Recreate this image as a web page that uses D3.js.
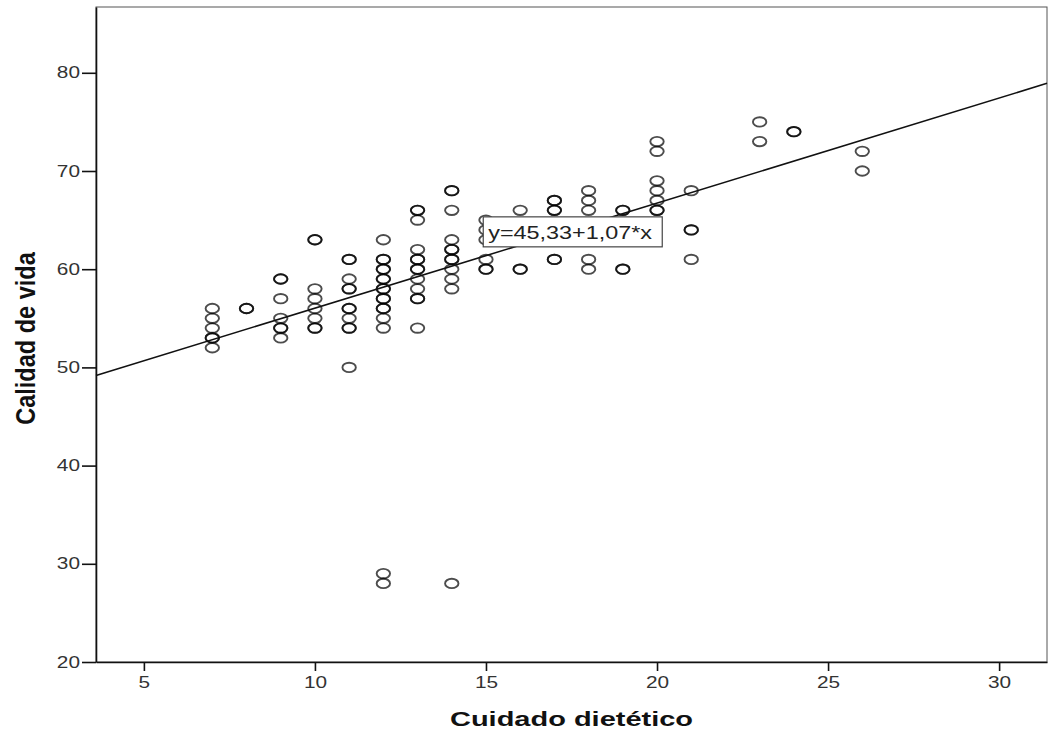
<!DOCTYPE html>
<html>
<head>
<meta charset="utf-8">
<script src="https://cdnjs.cloudflare.com/ajax/libs/d3/7.8.5/d3.min.js"></script>
<style>
  body { margin: 0; background: #fff; }
  svg { display: block; }
  text { font-family: "Liberation Sans", Arial, sans-serif; }
</style>
</head>
<body>
<div id="chart"></div>
<script>

// data: one list of "Calidad de vida" scores per "Cuidado dietetico" value
var cuidadoLevels = [7, 8, 9, 10, 11, 12, 13, 14, 15, 16, 17, 18, 19, 20, 21, 23, 24, 26];
var calidadByLevel = [
  [56, 55, 54, 53, 53, 52],
  [56, 56],
  [59, 59, 57, 55, 54, 54, 53],
  [63, 63, 58, 57, 56, 55, 54, 54],
  [61, 61, 59, 58, 58, 56, 56, 55, 54, 54, 50],
  [63, 61, 61, 60, 60, 59, 59, 58, 58, 57, 57, 56, 56, 55, 54, 29, 28],
  [66, 66, 65, 62, 61, 61, 60, 60, 59, 58, 57, 57, 54],
  [68, 68, 66, 63, 62, 62, 61, 61, 60, 59, 58, 28],
  [65, 64, 63, 61, 60, 60],
  [66, 60, 60],
  [67, 67, 66, 66, 61, 61],
  [68, 67, 66, 61, 60],
  [66, 66, 60, 60],
  [73, 72, 69, 68, 67, 66, 66],
  [68, 64, 64, 61],
  [75, 73],
  [74, 74],
  [72, 70]
];

var xTicks = [5, 10, 15, 20, 25, 30];
var yTicks = [20, 30, 40, 50, 60, 70, 80];
var xDomain = [3.6, 31.4];
var yDomain = [20, 86.7];

// fit line  y = 45,33 + 1,07*x
var fitIntercept = 45.33;
var fitSlope = 1.07;
var fitLabel = "y=45,33+1,07*x";
var fitLabelAt = [14.92, 65.33];

var xTitle = "Cuidado dietético";
var yTitle = "Calidad de vida";

// general variables

var width = 1049, height = 731;
var margin = {top: 7, right: 2, bottom: 69, left: 96};
var stretch = 1.3; // the picture is wider than tall, text looks stretched

var points = [];
cuidadoLevels.forEach(function(c, i) {
  calidadByLevel[i].forEach(function(v) {
    points.push({x: c, y: v});
  });
});

var svg = d3.select("#chart").append("svg")
  .attr("width", width)
  .attr("height", height);

var x = d3.scaleLinear()
  .domain(xDomain)
  .range([margin.left, width - margin.right]);

var y = d3.scaleLinear()
  .domain(yDomain)
  .range([height - margin.bottom, margin.top]);

// frame
svg.append("rect")
  .attr("x", x.range()[0])
  .attr("y", y.range()[1])
  .attr("width", x.range()[1] - x.range()[0])
  .attr("height", y.range()[0] - y.range()[1])
  .attr("fill", "none")
  .attr("stroke", "#555")
  .attr("stroke-width", 1);

// axes
var yAxis = svg.append("g")
  .attr("transform", "translate(" + margin.left + ",0)")
  .call(d3.axisLeft(y).tickValues(yTicks).tickSize(14).tickSizeOuter(0));

yAxis.selectAll("text")
  .attr("x", -16 / stretch)
  .attr("transform", "scale(" + stretch + ",1)");

var xAxis = svg.append("g")
  .attr("transform", "translate(0," + (height - margin.bottom) + ")")
  .call(d3.axisBottom(x).tickValues(xTicks).tickSize(9).tickPadding(6).tickSizeOuter(0));

xAxis.selectAll("text")
  .attr("x", 0)
  .attr("transform", "scale(" + stretch + ",1)");

svg.selectAll(".domain").attr("stroke", "#111").attr("stroke-width", 1.6);
svg.selectAll(".tick line").attr("stroke", "#111").attr("stroke-width", 1.6);
svg.selectAll(".tick text")
  .attr("font-size", 16)
  .attr("fill", "#333")
  .attr("font-family", "'Liberation Sans', Arial, sans-serif");

// points
svg.append("g").selectAll("ellipse")
  .data(points)
  .enter()
  .append("ellipse")
  .attr("cx", function(d) { return x(d.x); })
  .attr("cy", function(d) { return y(d.y); })
  .attr("rx", 6.7)
  .attr("ry", 4.7)
  .attr("fill", "none")
  .attr("stroke", "#000")
  .attr("stroke-opacity", 0.7)
  .attr("stroke-width", 1.9);

// fit line
svg.append("line")
  .attr("x1", x(xDomain[0]))
  .attr("y1", y(fitIntercept + fitSlope * xDomain[0]))
  .attr("x2", x(xDomain[1]))
  .attr("y2", y(fitIntercept + fitSlope * xDomain[1]))
  .attr("stroke", "#111")
  .attr("stroke-width", 1.6);

// fit label box
var lab = svg.append("g")
  .attr("transform", "translate(" + x(fitLabelAt[0]) + "," + y(fitLabelAt[1]) + ")");

lab.append("rect")
  .attr("width", 179)
  .attr("height", 30)
  .attr("fill", "#fff")
  .attr("stroke", "#444")
  .attr("stroke-width", 1.2);

lab.append("text")
  .attr("transform", "translate(5,22) scale(" + stretch + ",1)")
  .attr("font-size", 18)
  .attr("fill", "#222")
  .text(fitLabel);

// titles
svg.append("text")
  .attr("transform", "translate(" + ((x.range()[0] + x.range()[1]) / 2) + ",726) scale(1.38,1)")
  .attr("text-anchor", "middle")
  .attr("font-size", 21)
  .attr("font-weight", "bold")
  .attr("fill", "#111")
  .text(xTitle);

svg.append("text")
  .attr("transform", "translate(35," + ((y.range()[0] + y.range()[1]) / 2 + 4) + ") rotate(-90) scale(1.07,1.22)")
  .attr("text-anchor", "middle")
  .attr("font-size", 22)
  .attr("font-weight", "bold")
  .attr("fill", "#111")
  .text(yTitle);

</script>
</body>
</html>
